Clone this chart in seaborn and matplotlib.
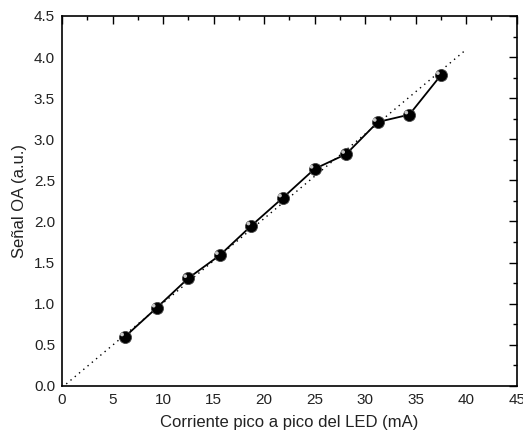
import matplotlib
matplotlib.use("Agg")
import matplotlib.pyplot as plt
from matplotlib.ticker import MultipleLocator
import seaborn as sns
import pandas as pd
import numpy as np

corriente = [6.25, 9.375, 12.5, 15.625, 18.75, 21.875, 25.0, 28.125, 31.25, 34.375, 37.5]
senal = [0.60, 0.95, 1.31, 1.59, 1.95, 2.29, 2.64, 2.82, 3.21, 3.30, 3.78]
fit_x = [0.0, 40.0]
fit_y = [-0.02, 4.092]

sns.set_theme(style="white")
plt.rcParams['font.family'] = ['Liberation Sans', 'DejaVu Sans']

df = pd.DataFrame({"x": corriente, "y": senal})
fit = pd.DataFrame({"x": fit_x, "y": fit_y})

fig, ax = plt.subplots(figsize=(5.23, 4.38), dpi=100)
fig.subplots_adjust(left=0.1185, right=0.988, top=0.9635, bottom=0.119)

sns.lineplot(data=fit, x="x", y="y", ax=ax, color="black", linestyle=(0, (1, 3)),
             linewidth=1.0, zorder=1)
sns.lineplot(data=df, x="x", y="y", ax=ax, color="black", linewidth=1.3, zorder=2)
sns.scatterplot(data=df, x="x", y="y", ax=ax, color="black", s=75,
                edgecolor="#444444", linewidth=0.6, zorder=3)
# highlight to mimic sphere look
ax.scatter(np.array(corriente) - 0.3, np.array(senal) + 0.025, s=7, color="#c8c8c8",
           edgecolor="none", zorder=4)

ax.set_xlim(0, 45)
ax.set_ylim(0, 4.5)
ax.xaxis.set_major_locator(MultipleLocator(5))
ax.xaxis.set_minor_locator(MultipleLocator(2.5))
ax.yaxis.set_major_locator(MultipleLocator(0.5))
ax.yaxis.set_minor_locator(MultipleLocator(0.25))
ax.xaxis.set_major_formatter(matplotlib.ticker.FormatStrFormatter('%d'))
ax.yaxis.set_major_formatter(matplotlib.ticker.FormatStrFormatter('%.1f'))
ax.tick_params(which="both", direction="in", top=True, right=True, color="black",
               width=1.0, labelsize=11, labelcolor="#222222")
ax.tick_params(which="major", length=6, pad=5)
ax.tick_params(which="minor", length=3)
for s in ax.spines.values():
    s.set_color("black")
    s.set_linewidth(1.2)

ax.set_xlabel("Corriente pico a pico del LED (mA)", fontsize=12, color="#222222", labelpad=6)
ax.set_ylabel("Señal OA (a.u.)", fontsize=12, color="#222222", labelpad=5)

fig.savefig("out.png", dpi=100)
